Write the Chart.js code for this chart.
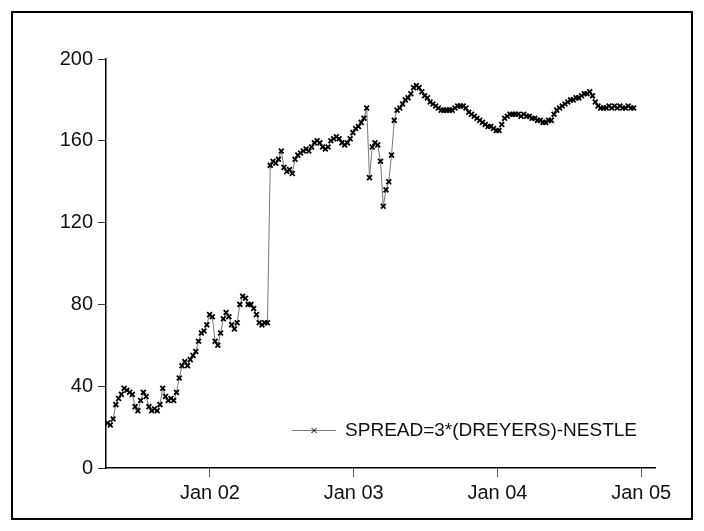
<!DOCTYPE html>
<html><head><meta charset="utf-8">
<script src="https://cdn.jsdelivr.net/npm/chart.js@4"></script>
<style>
html,body{margin:0;padding:0;background:#fff;}
#wrap{position:relative;width:704px;height:531px;}
canvas{display:block;}
</style></head><body>
<div id="wrap"><canvas id="c" width="704" height="531"></canvas></div>
<script>
const seriesLabel = 'SPREAD=3*(DREYERS)-NESTLE';
const firstWeek = '2001-04-16';
const weekStepDays = 7;
const spread = [
 22,21,24,31,34,36,39,38,37,36,
 30,28,33,37,35,30,28,29,28,31,
 39,35,33,34,33,37,44,50,52,50,
 53,55,57,62,66,67,70,75,74,62,
 60,66,73,76,74,70,68,71,80,84,
 83,80,80,78,75,71,70,71,71,148,
 150,149,151,155,147,145,146,144,151,153,
 154,155,156,155,157,159,160,159,157,156,
 157,160,161,162,161,159,158,159,161,164,
 166,167,169,171,176,142,157,159,158,150,
 128,136,140,153,170,175,176,178,180,181,
 183,186,187,186,184,182,181,179,178,177,
 176,175,175,175,175,175,176,177,177,177,
 176,174,173,172,171,170,169,168,167,167,
 166,165,165,168,171,172,173,173,173,173,
 172,173,172,172,171,171,170,170,169,169,
 170,170,173,175,176,177,178,179,180,180,
 181,181,182,183,183,184,182,179,177,176,
 176,176,177,176,177,176,177,176,176,177,
 176,176
];
const yTicks = [0, 40, 80, 120, 160, 200];
const xTickDates = ['2002-01-01', '2003-01-01', '2004-01-01', '2005-01-01'];
const xTickLabels = ['Jan 02', 'Jan 03', 'Jan 04', 'Jan 05'];
const xRangeDates = ['2001-04-12', '2005-02-05'];

function decYear(str) {
  const d = new Date(str + 'T00:00:00Z');
  const y = d.getUTCFullYear();
  const s = Date.UTC(y, 0, 1), e = Date.UTC(y + 1, 0, 1);
  return y + (d.getTime() - s) / (e - s);
}
function addDays(str, n) {
  const d = new Date(str + 'T00:00:00Z');
  d.setUTCDate(d.getUTCDate() + n);
  return d.toISOString().slice(0, 10);
}
const weekDates = spread.map((_, i) => addDays(firstWeek, i * weekStepDays));
const points = spread.map((v, i) => ({ x: decYear(weekDates[i]), y: v }));
const xTickVals = xTickDates.map(decYear);

const FONT = "'Liberation Sans', Arial, sans-serif";

const framePlugin = {
  id: 'frame',
  beforeDraw(chart) {
    const ctx = chart.ctx;
    ctx.save();
    ctx.fillStyle = '#fff';
    ctx.fillRect(0, 0, chart.width, chart.height);
    ctx.strokeStyle = '#000';
    ctx.lineWidth = 2;
    ctx.strokeRect(12, 12, chart.width - 24, chart.height - 24);
    ctx.restore();
  }
};

const legendPlugin = {
  id: 'inlineLegend',
  afterDatasetsDraw(chart) {
    const ctx = chart.ctx;
    const ca = chart.chartArea;
    const ds = chart.data.datasets[0];
    ctx.save();
    ctx.font = '19px ' + FONT;
    const tw = ctx.measureText(ds.label).width;
    const right = ca.right - 18;
    const yMid = ca.bottom - 38;
    const textX = right - tw;
    const lineEnd = textX - 9;
    const lineStart = lineEnd - 44;
    ctx.strokeStyle = '#777';
    ctx.lineWidth = 1;
    ctx.beginPath();
    ctx.moveTo(lineStart, yMid + 0.5);
    ctx.lineTo(lineEnd, yMid + 0.5);
    ctx.stroke();
    const cx = (lineStart + lineEnd) / 2;
    ctx.strokeStyle = '#000';
    ctx.beginPath();
    ctx.moveTo(cx - 2.5, yMid - 2); ctx.lineTo(cx + 2.5, yMid + 3);
    ctx.moveTo(cx + 2.5, yMid - 2); ctx.lineTo(cx - 2.5, yMid + 3);
    ctx.stroke();
    ctx.fillStyle = '#111';
    ctx.textBaseline = 'middle';
    ctx.textAlign = 'left';
    ctx.fillText(ds.label, textX, yMid + 1);
    ctx.restore();
  }
};

new Chart(document.getElementById('c'), {
  type: 'line',
  data: {
    datasets: [{
      label: seriesLabel,
      data: points,
      borderColor: '#777',
      borderWidth: 1,
      tension: 0,
      pointStyle: 'crossRot',
      pointRadius: 3.4,
      pointBorderColor: '#000',
      pointBackgroundColor: '#000',
      pointBorderWidth: 1.8,
      fill: false
    }]
  },
  options: {
    responsive: false,
    animation: false,
    layout: { padding: { top: 59, right: 49, left: 0, bottom: 0 } },
    plugins: { legend: { display: false }, tooltip: { enabled: false } },
    scales: {
      x: {
        type: 'linear',
        min: decYear(xRangeDates[0]),
        max: decYear(xRangeDates[1]),
        afterBuildTicks(scale) { scale.ticks = xTickVals.map(v => ({ value: v })); },
        afterFit(scale) { scale.height = 63; },
        border: { display: true, color: '#000', width: 1.5 },
        grid: { display: true, drawOnChartArea: false, drawTicks: true, tickLength: 9, color: '#555', lineWidth: 1 },
        ticks: {
          autoSkip: false, maxRotation: 0, padding: 4, color: '#111',
          font: { family: FONT, size: 20 },
          callback(v) { const i = xTickVals.findIndex(t => Math.abs(t - v) < 1e-6); return i >= 0 ? xTickLabels[i] : ''; }
        }
      },
      y: {
        min: yTicks[0],
        max: yTicks[yTicks.length - 1],
        afterBuildTicks(scale) { scale.ticks = yTicks.map(v => ({ value: v })); },
        afterFit(scale) { scale.width = 106; },
        border: { display: true, color: '#000', width: 1.5 },
        grid: { display: true, drawOnChartArea: false, drawTicks: true, tickLength: 8, color: '#333', lineWidth: 1 },
        ticks: { padding: 5, color: '#111', font: { family: FONT, size: 20 } }
      }
    }
  },
  plugins: [framePlugin, legendPlugin]
});
</script>
</body></html>
